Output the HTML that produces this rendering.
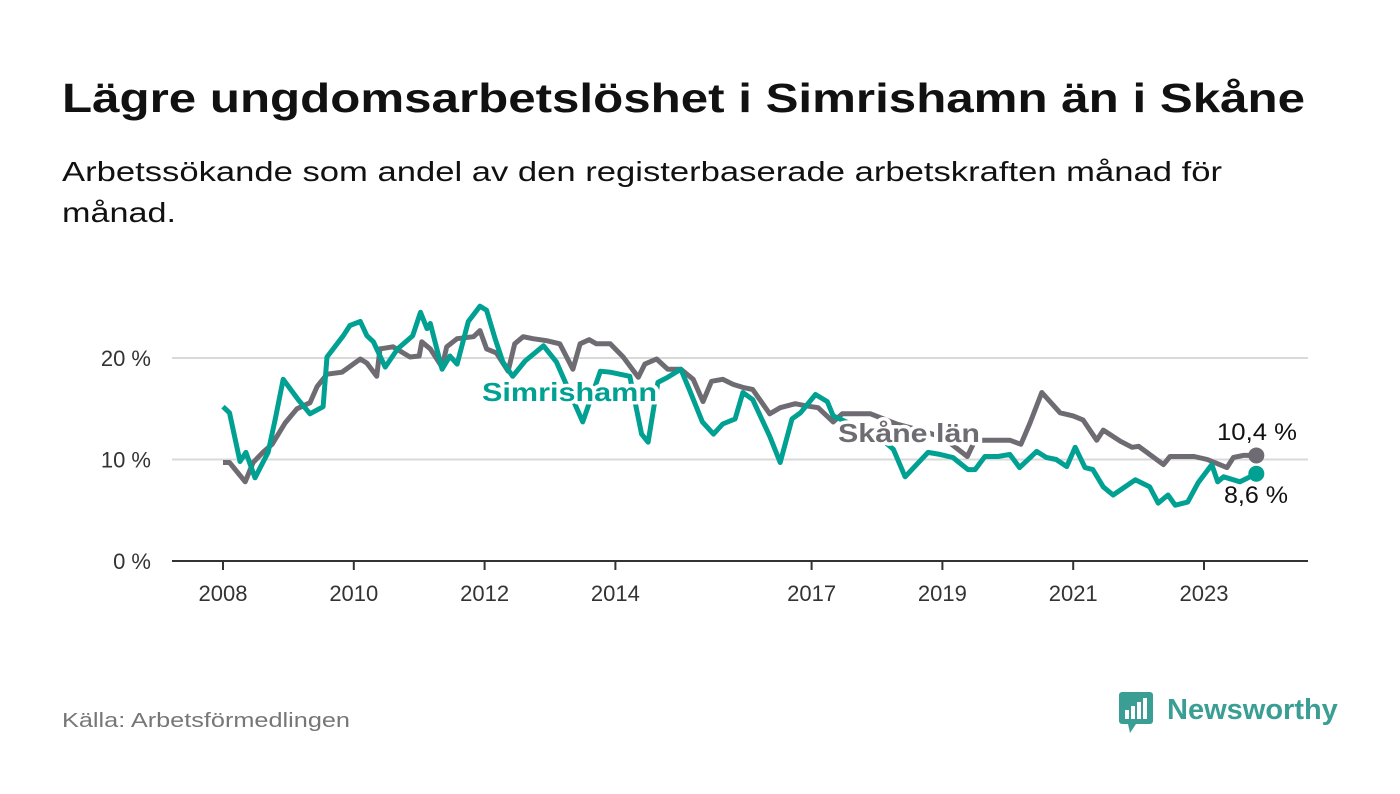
<!DOCTYPE html>
<html><head><meta charset="utf-8">
<style>
body{margin:0;background:#fff;width:1400px;height:794px;overflow:hidden;font-family:"Liberation Sans","DejaVu Sans",sans-serif;}
svg{position:absolute;left:0;top:0}
</style></head>
<body>
<svg width="1400" height="794">
<text x="62" y="112" font-size="41" font-weight="bold" fill="#111" textLength="1243" lengthAdjust="spacingAndGlyphs">Lägre ungdomsarbetslöshet i Simrishamn än i Skåne</text>
<text x="62" y="181" font-size="28" fill="#111" textLength="1160" lengthAdjust="spacingAndGlyphs">Arbetssökande som andel av den registerbaserade arbetskraften månad för</text>
<text x="62" y="222" font-size="28" fill="#111" textLength="114" lengthAdjust="spacingAndGlyphs">månad.</text>
<g id="grid"></g>
<g id="xaxis"></g>
<g id="lines"></g>
<text x="62" y="727" font-size="20" fill="#777" textLength="288" lengthAdjust="spacingAndGlyphs">Källa: Arbetsförmedlingen</text>
<g>
<rect x="1119" y="692" width="34" height="32" rx="3" fill="#3a9e94"/>
<polygon points="1128,724 1136,724 1130,733" fill="#3a9e94"/>
<rect x="1125" y="710" width="4" height="9" fill="#fff"/><rect x="1131" y="706" width="4" height="13" fill="#fff"/><rect x="1137" y="702" width="4" height="17" fill="#fff"/><rect x="1143" y="698" width="4" height="21" fill="#fff"/>
<text x="1167" y="719" font-size="29" font-weight="bold" fill="#3a9e94">Newsworthy</text>
</g>
</svg>
<script>
const yTicks=[0,10,20];
const xTickYears=[2008,2010,2012,2014,2017,2019,2021,2023];
const skaneT=[2008,2008.1,2008.34,2008.46,2008.61,2008.75,2008.95,2009.13,2009.33,2009.44,2009.59,2009.82,2010.1,2010.2,2010.35,2010.4,2010.6,2010.86,2011,2011.04,2011.17,2011.35,2011.42,2011.58,2011.83,2011.93,2012.03,2012.18,2012.36,2012.46,2012.59,2012.74,2012.95,2013.15,2013.35,2013.46,2013.6,2013.71,2013.92,2014.12,2014.35,2014.45,2014.63,2014.8,2015,2015.19,2015.34,2015.47,2015.64,2015.8,2015.95,2016.1,2016.36,2016.52,2016.75,2016.9,2017.1,2017.33,2017.47,2017.9,2018.3,2018.7,2019,2019.38,2019.5,2019.7,2020.03,2020.2,2020.34,2020.52,2020.8,2021,2021.15,2021.36,2021.46,2021.72,2021.9,2022,2022.38,2022.48,2022.85,2023.05,2023.35,2023.45,2023.6,2023.8];
const skaneV=[9.7,9.7,7.8,9.7,10.7,11.5,13.6,15,15.6,17.2,18.4,18.6,19.9,19.5,18.2,20.9,21.1,20.1,20.2,21.6,20.9,19.1,21.1,21.9,22.1,22.7,20.9,20.5,18.7,21.4,22.1,21.9,21.7,21.4,18.9,21.4,21.8,21.4,21.4,20.1,18.1,19.4,19.9,18.9,18.9,17.9,15.7,17.7,17.9,17.4,17.1,16.9,14.5,15.1,15.5,15.3,15.1,13.7,14.5,14.5,13.5,12.8,12.2,10.3,11.9,11.9,11.9,11.5,13.6,16.6,14.6,14.3,13.9,11.9,12.9,11.8,11.2,11.3,9.5,10.3,10.3,10,9.2,10.2,10.4,10.4];
const simT=[2008,2008.1,2008.26,2008.35,2008.49,2008.69,2008.8,2008.92,2009.15,2009.33,2009.53,2009.59,2009.84,2009.94,2010.1,2010.2,2010.3,2010.48,2010.67,2010.9,2011.02,2011.12,2011.17,2011.35,2011.47,2011.58,2011.75,2011.93,2012.03,2012.16,2012.28,2012.43,2012.62,2012.9,2013.1,2013.5,2013.77,2013.92,2014.22,2014.4,2014.5,2014.65,2014.8,2015,2015.13,2015.33,2015.5,2015.64,2015.83,2015.95,2016.1,2016.36,2016.52,2016.7,2016.83,2017.06,2017.24,2017.33,2017.6,2017.9,2018.25,2018.43,2018.78,2018.96,2019.16,2019.39,2019.5,2019.65,2019.85,2020.03,2020.18,2020.44,2020.59,2020.74,2020.9,2021.03,2021.18,2021.3,2021.46,2021.61,2021.95,2022.17,2022.3,2022.45,2022.56,2022.75,2022.91,2023.12,2023.21,2023.3,2023.55,2023.8];
const simV=[15.2,14.6,9.8,10.7,8.2,10.7,14,17.9,15.9,14.5,15.2,20.1,22.2,23.2,23.6,22.2,21.6,19.1,20.9,22.2,24.5,22.9,23.4,18.9,20.2,19.4,23.6,25.1,24.7,21.9,19.6,18.2,19.7,21.2,19.6,13.7,18.7,18.6,18.2,12.5,11.7,17.6,18.1,18.9,16.9,13.7,12.5,13.5,14,16.6,15.9,12.3,9.7,14,14.6,16.4,15.7,14.3,13.5,13,11,8.3,10.7,10.5,10.2,9,9,10.3,10.3,10.5,9.2,10.8,10.2,10,9.3,11.2,9.2,9,7.3,6.5,8,7.3,5.7,6.5,5.5,5.8,7.7,9.5,7.8,8.3,7.8,8.6];
const X=t=>223+(t-2008)*65.4;
const Y=v=>561-v*10.15;
const NS='http://www.w3.org/2000/svg';
function mk(tag,attrs,parent){const e=document.createElementNS(NS,tag);for(const k in attrs)e.setAttribute(k,attrs[k]);parent.appendChild(e);return e;}
const grid=document.getElementById('grid');
yTicks.forEach(v=>{
 if(v>0){const g=mk('line',{x1:172,x2:1308,y1:Y(v),y2:Y(v),stroke:'#d9d9d9','stroke-width':2},grid);
 
 }
 const t=mk('text',{x:151,y:Y(v)+8,'font-size':22,fill:'#333','text-anchor':'end'},grid);
 t.textContent=v+' %';
 
 
});
const xa=document.getElementById('xaxis');
const ax=mk('line',{x1:172,x2:1308,y1:561,y2:561,stroke:'#333','stroke-width':2},xa);


xTickYears.forEach(yr=>{
 mk('line',{x1:X(yr),x2:X(yr),y1:561,y2:570,stroke:'#333','stroke-width':2},xa);
 const t=mk('text',{x:X(yr),y:601,'font-size':22,fill:'#333','text-anchor':'middle'},xa);
 t.textContent=yr;
 
 
});
const L=document.getElementById('lines');
function path(T,V){return T.map((t,i)=>(i?'L':'M')+X(t).toFixed(1)+','+Y(V[i]).toFixed(1)).join('');}
const gp=mk('path',{d:path(skaneT,skaneV),fill:'none',stroke:'#6e6c72','stroke-width':5,'stroke-linejoin':'round'},L);


const tp=mk('path',{d:path(simT,simV),fill:'none',stroke:'#00a092','stroke-width':5,'stroke-linejoin':'round'},L);


const gd=mk('circle',{cx:X(skaneT[skaneT.length-1]),cy:Y(skaneV[skaneV.length-1]),r:8,fill:'#6e6c72'},L);


const td=mk('circle',{cx:X(simT[simT.length-1]),cy:Y(simV[simV.length-1]),r:8,fill:'#00a092'},L);


function lbl(x,y,txt,fill,bold,name,anchor,len){
 const t=mk('text',{x:x,y:y,'font-size':bold?26:24,'font-weight':bold?'bold':'normal',fill:fill,stroke:'#fff','stroke-width':bold?7:5,'paint-order':'stroke','stroke-linejoin':'round','text-anchor':anchor||'start',textLength:len,lengthAdjust:'spacingAndGlyphs'},L);
 t.textContent=txt;
 
 
}
lbl(482,401,'Simrishamn','#00a092',true,'simrishamn-label','start',175);
lbl(838,442,'Skåne län','#6e6c72',true,'skane-label','start',142);
lbl(1257,440,'10,4 %','#111',false,'skane-end-value','middle',80);
lbl(1256,503,'8,6 %','#111',false,'simrishamn-end-value','middle',64);
</script>
</body></html>
